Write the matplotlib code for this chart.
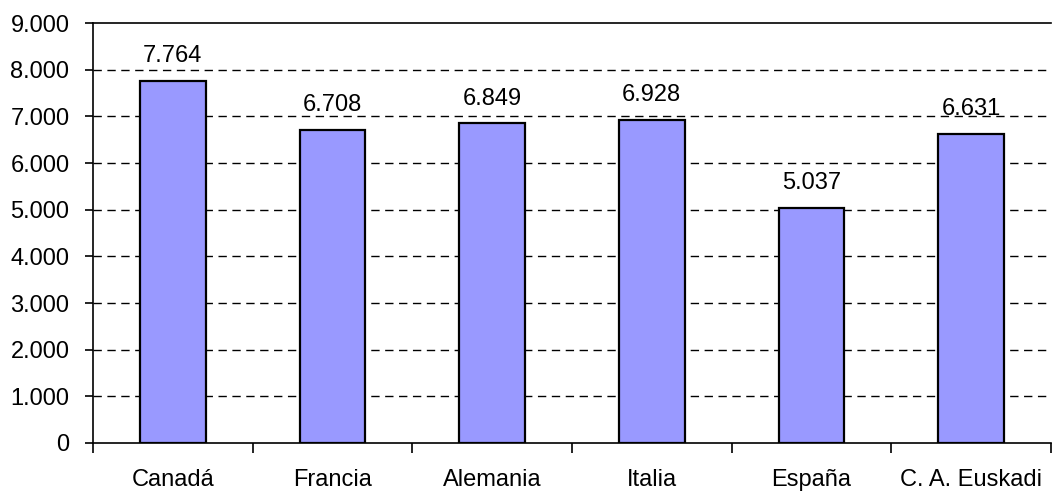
import matplotlib.pyplot as plt
import numpy as np

# datos del grafico
paises = ['Canadá', 'Francia', 'Alemania', 'Italia', 'España', 'C. A. Euskadi']
valores = [7764, 6708, 6849, 6928, 5037, 6631]
etiquetas = ['7.764', '6.708', '6.849', '6.928', '5.037', '6.631']
yticks = [0, 1000, 2000, 3000, 4000, 5000, 6000, 7000, 8000, 9000]
ytick_labels = ['0', '1.000', '2.000', '3.000', '4.000', '5.000', '6.000', '7.000', '8.000', '9.000']

plt.rcParams['font.family'] = ['Liberation Sans', 'DejaVu Sans']
fs = 17

fig = plt.figure(figsize=(10.52, 4.91), dpi=100)
ax = fig.add_axes([0.0884, 0.0978, 0.9106, 0.8552])

x = np.arange(len(paises))
bars = ax.bar(x, valores, width=0.41, color='#9999FF', edgecolor='black', linewidth=1.6, zorder=3)

for b, t in zip(bars, etiquetas):
    ax.annotate(t, (b.get_x() + b.get_width() / 2, b.get_height()),
                xytext=(0, 10), textcoords='offset points',
                ha='center', va='bottom', fontsize=fs)

ax.set_xlim(-0.5, len(paises) - 0.5)
ax.set_ylim(0, 9000)
ax.set_yticks(yticks)
ax.set_yticklabels(ytick_labels, fontsize=fs)
ax.set_xticks(x)
ax.set_xticklabels(paises, fontsize=fs)
ax.set_xticks(np.arange(len(paises) + 1) - 0.5, minor=True)

ax.tick_params(axis='x', which='major', length=0, pad=19)
ax.tick_params(axis='x', which='minor', length=7, width=1.2, direction='out')
ax.tick_params(axis='y', length=6, width=1.2, pad=11)

for y in yticks[1:-1]:
    ax.axhline(y, color='black', linestyle=(0, (6, 4)), linewidth=1, zorder=1)

ax.spines['right'].set_visible(False)
for s in ['left', 'bottom', 'top']:
    ax.spines[s].set_linewidth(1.2)

fig.savefig('out.png', dpi=100)
